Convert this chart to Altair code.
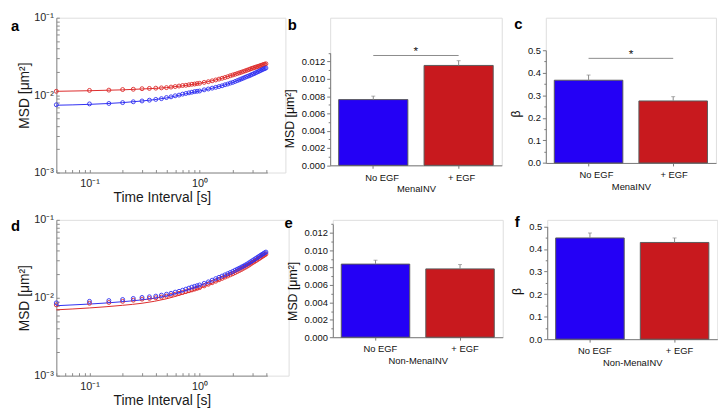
import altair as alt
import pandas as pd

FONT = "Liberation Sans"

# ---------------- data ----------------
t_pts = [0.05, 0.10, 0.15, 0.20, 0.25, 0.30, 0.35, 0.40, 0.45, 0.50,
         0.55, 0.60, 0.65, 0.70, 0.75, 0.80, 0.85, 0.90, 0.95, 1.0,
         1.1, 1.2, 1.3, 1.4, 1.5, 1.6, 1.7, 1.8, 1.9, 2.0,
         2.1, 2.2, 2.3, 2.4, 2.5, 2.6, 2.7, 2.8, 2.9, 3.0,
         3.1, 3.2, 3.3, 3.4, 3.5, 3.6, 3.7, 3.8, 3.9, 4.0]

# panel a (MenaINV): + EGF (red) and No EGF (blue)
a_red = [0.0112, 0.0115, 0.0116, 0.0118, 0.0119, 0.0121, 0.0122, 0.0123, 0.0124, 0.0125,
         0.0127, 0.0129, 0.0131, 0.0133, 0.0134, 0.0136, 0.0138, 0.0139, 0.0141, 0.0142,
         0.0146, 0.0149, 0.0153, 0.0157, 0.0161, 0.0165, 0.0169, 0.0173, 0.0178, 0.0182,
         0.0186, 0.0190, 0.0194, 0.0198, 0.0202, 0.0206, 0.0210, 0.0214, 0.0218, 0.0222,
         0.0225, 0.0229, 0.0232, 0.0235, 0.0238, 0.0242, 0.0245, 0.0248, 0.0251, 0.0254]
a_blue = [0.0075, 0.0077, 0.0078, 0.0080, 0.0082, 0.0084, 0.0086, 0.0088, 0.0090, 0.0093,
          0.0095, 0.0098, 0.0100, 0.0103, 0.0105, 0.0107, 0.0109, 0.0111, 0.0112, 0.0113,
          0.0117, 0.0120, 0.0123, 0.0126, 0.0129, 0.0132, 0.0136, 0.0139, 0.0143, 0.0146,
          0.0150, 0.0154, 0.0158, 0.0162, 0.0166, 0.0170, 0.0174, 0.0177, 0.0181, 0.0185,
          0.0189, 0.0193, 0.0197, 0.0201, 0.0205, 0.0209, 0.0213, 0.0217, 0.0220, 0.0224]

# panel d (Non-MenaINV)
d_red = [0.0081, 0.0085, 0.0087, 0.0090, 0.0093, 0.0096, 0.0098, 0.0100, 0.0102, 0.0105,
         0.0108, 0.0111, 0.0114, 0.0117, 0.0120, 0.0123, 0.0126, 0.0129, 0.0132, 0.0135,
         0.0142, 0.0149, 0.0156, 0.0163, 0.0170, 0.0177, 0.0184, 0.0190, 0.0197, 0.0203,
         0.0210, 0.0217, 0.0224, 0.0231, 0.0239, 0.0246, 0.0254, 0.0262, 0.0271, 0.0280,
         0.0288, 0.0296, 0.0304, 0.0313, 0.0321, 0.0330, 0.0338, 0.0347, 0.0355, 0.0364]
d_blue = [0.0086, 0.0090, 0.0092, 0.0095, 0.0098, 0.0101, 0.0103, 0.0105, 0.0108, 0.0111,
          0.0114, 0.0118, 0.0121, 0.0125, 0.0129, 0.0133, 0.0137, 0.0140, 0.0143, 0.0146,
          0.0153, 0.0160, 0.0168, 0.0176, 0.0183, 0.0190, 0.0197, 0.0204, 0.0211, 0.0218,
          0.0226, 0.0233, 0.0240, 0.0248, 0.0255, 0.0263, 0.0271, 0.0280, 0.0289, 0.0298,
          0.0307, 0.0316, 0.0325, 0.0334, 0.0343, 0.0352, 0.0361, 0.0369, 0.0378, 0.0386]

# fitted curves
t_fit = [0.05, 0.1, 0.2, 0.3, 0.5, 0.7, 1.0, 1.5, 2.0, 3.0, 4.0]
a_red_fit = [0.0112, 0.0114, 0.0117, 0.0120, 0.0125, 0.0132, 0.0142, 0.0161, 0.0182, 0.0222, 0.0256]
a_blue_fit = [0.0074, 0.0076, 0.0080, 0.0084, 0.0092, 0.0102, 0.0113, 0.0129, 0.0146, 0.0185, 0.0226]
d_red_fit = [0.0070, 0.0074, 0.0080, 0.0085, 0.0097, 0.0111, 0.0132, 0.0168, 0.0203, 0.0280, 0.0366]
d_blue_fit = [0.0079, 0.0083, 0.0089, 0.0094, 0.0105, 0.0120, 0.0144, 0.0182, 0.0218, 0.0298, 0.0388]

# bar panels
conds = ["No EGF", "+ EGF"]
b_msd = [0.0076, 0.01155]
b_err = [0.0004, 0.00055]
c_beta = [0.367, 0.275]
c_err = [0.023, 0.019]
e_msd = [0.0084, 0.00785]
e_err = [0.00045, 0.0005]
f_beta = [0.449, 0.429]
f_err = [0.022, 0.020]
b_sig = 0.0127
c_sig = 0.464

# axis tick lists
x_log_ticks = [0.05, 0.06, 0.07, 0.08, 0.09, 0.1, 0.2, 0.3, 0.4, 0.5, 0.6, 0.7, 0.8, 0.9, 1, 2, 3, 4]
y_log_ticks = [0.001, 0.002, 0.003, 0.004, 0.005, 0.006, 0.007, 0.008, 0.009,
               0.01, 0.02, 0.03, 0.04, 0.05, 0.06, 0.07, 0.08, 0.09, 0.1]
msd_major = [0.0, 0.002, 0.004, 0.006, 0.008, 0.010, 0.012]
msd_minor = [0.001, 0.003, 0.005, 0.007, 0.009, 0.011, 0.013]
beta_major = [0.0, 0.1, 0.2, 0.3, 0.4, 0.5]
beta_minor = [0.05, 0.15, 0.25, 0.35, 0.45]

RED = "#dc2a2a"
BLUE = "#2f2ff2"
BAR_BLUE = "#2400f5"
BAR_RED = "#c8191e"
AXIS_GRAY = "#8a8a8a"


def letter_title(txt, dx, dy):
    return alt.TitleParams(txt, anchor="start", frame="group", dx=dx, dy=dy, offset=0,
                           fontSize=15, fontWeight="bold", font=FONT, baseline="alphabetic",
                           color="#000000")


def msd_panel(letter, red_pts, blue_pts, red_fit, blue_fit, width, height, tdx, tdy):
    n = len(t_pts)
    pts = pd.DataFrame({"t": t_pts + t_pts, "msd": red_pts + blue_pts,
                        "s": ["+ EGF"] * n + ["No EGF"] * n})
    m = len(t_fit)
    fit = pd.DataFrame({"t": t_fit + t_fit, "msd": red_fit + blue_fit,
                        "s": ["+ EGF"] * m + ["No EGF"] * m})
    xs = alt.Scale(type="log", domain=[0.05, 4.12], range=[0, 214], nice=False)
    ys = alt.Scale(type="log", domain=[0.001, 0.1], nice=False)
    cs = alt.Scale(domain=["+ EGF", "No EGF"], range=[RED, BLUE])
    common = dict(grid=False, domainColor=AXIS_GRAY, tickColor=AXIS_GRAY,
                  tickSize={"expr": "-3"}, labelFontSize=11, labelColor="#262626",
                  labelFont=FONT, titleFont=FONT, titleFontSize=14,
                  titleFontWeight="normal", titleColor="#1a1a1a", labelOverlap=False,
                  labelFlush=False)
    xaxis = alt.Axis(values=x_log_ticks, title="Time Interval [s]", labelPadding=8,
                     titlePadding=2,
                     labelExpr="abs(datum.value-0.1)<1e-9 ? '10⁻¹' : (abs(datum.value-1)<1e-9 ? '10⁰' : '')",
                     **common)
    yaxis = alt.Axis(values=y_log_ticks, title="MSD [μm²]", labelPadding=6, titlePadding=2,
                     labelExpr="abs(datum.value-0.1)<1e-9 ? '10⁻¹' : (abs(datum.value-0.01)<1e-9 ? '10⁻²' : (abs(datum.value-0.001)<1e-9 ? '10⁻³' : ''))",
                     **common)
    lines = alt.Chart(fit).mark_line(strokeWidth=1, interpolate="monotone").encode(
        x=alt.X("t:Q", scale=xs, axis=xaxis),
        y=alt.Y("msd:Q", scale=ys, axis=yaxis),
        color=alt.Color("s:N", scale=cs, legend=None),
        order=alt.Order("t:Q"),
    )
    points = alt.Chart(pts).mark_point(shape="circle", filled=False, size=16, strokeWidth=0.9,
                                       opacity=1).encode(
        x=alt.X("t:Q", scale=xs, axis=xaxis),
        y=alt.Y("msd:Q", scale=ys, axis=yaxis),
        color=alt.Color("s:N", scale=cs, legend=None),
    )
    return alt.layer(lines, points).properties(
        width=width, height=height, title=letter_title(letter, tdx, tdy))


def bar_panel(letter, vals, errs, kind, xtitle, width, height, rng, title_y, tdx, tdy,
              sig=None, label_offset=None):
    df = pd.DataFrame({"cond": conds, "v": vals,
                       "hi": [v + e for v, e in zip(vals, errs)]})
    xs = alt.Scale(domain=conds, paddingInner=0.19, paddingOuter=0.1)
    if kind == "msd":
        ys = alt.Scale(domain=[0, 0.013], range=rng, nice=False, zero=True)
        major, minor, fmt = msd_major, msd_minor, ".3f"
        ytitle = "MSD [μm²]"
    else:
        ys = alt.Scale(domain=[0, 0.5], range=rng, nice=False, zero=True)
        major, minor, fmt = beta_major, beta_minor, ".1f"
        ytitle = "β"
    if label_offset is None:
        label_offset = 5
    xaxis = alt.Axis(title=xtitle, grid=False, domainColor="#7a7a7a", tickColor="#7a7a7a",
                     tickSize=3, labelPadding=4, labelFontSize=9.5, labelColor="#111111",
                     labelFont=FONT, titleFont=FONT, titleFontSize=9.5,
                     titleFontWeight="normal", titleColor="#111111", titlePadding=2,
                     labelAngle=0, labelOffset=label_offset)
    yaxis = alt.Axis(title=ytitle, values=major, format=fmt, grid=False,
                     domainColor="#7a7a7a", tickColor="#7a7a7a", tickSize=3.5,
                     labelPadding=2, labelFontSize=9.5, labelColor="#111111",
                     labelFont=FONT, titleFont=FONT, titleFontSize=12.5,
                     titleFontWeight="normal", titleColor="#111111", titlePadding=5,
                     titleY=title_y, labelOverlap=False, labelFlush=False, orient="left")
    minor_axis = alt.Axis(values=minor, labels=False, domain=False, grid=False, title="",
                          tickColor="#7a7a7a", tickSize=2, orient="left")
    bars = alt.Chart(df).mark_bar(stroke="#5a5a5a", strokeWidth=1).encode(
        x=alt.X("cond:N", scale=xs, axis=xaxis, sort=conds),
        y=alt.Y("v:Q", scale=ys, axis=yaxis),
        color=alt.Color("cond:N", scale=alt.Scale(domain=conds, range=[BAR_BLUE, BAR_RED]),
                        legend=None),
    )
    minor_layer = alt.Chart(df).mark_point(opacity=0).encode(
        x=alt.X("cond:N", sort=conds), y=alt.Y("v:Q", axis=minor_axis))
    err = alt.Chart(df).mark_rule(color="#8a8a8a", strokeWidth=1).encode(
        x=alt.X("cond:N", sort=conds), y=alt.Y("v:Q", axis=None), y2="hi:Q")
    cap = alt.Chart(df).mark_tick(color="#8a8a8a", thickness=1, size=4,
                                  orient="horizontal").encode(
        x=alt.X("cond:N", sort=conds), y=alt.Y("hi:Q", axis=None))
    layers = [bars, minor_layer, err, cap]
    if sig is not None:
        sdf = pd.DataFrame({"cond": [conds[0]], "cond2": [conds[1]], "y": [sig]})
        rule = alt.Chart(sdf).mark_rule(color="#8a8a8a", strokeWidth=1).encode(
            x=alt.X("cond:N", sort=conds), x2="cond2:N", y=alt.Y("y:Q", axis=None))
        star = alt.Chart(sdf).mark_text(text="*", fontSize=12, font=FONT, dx=43,
                                        baseline="alphabetic", color="#111111").encode(
            x=alt.X("cond:N", sort=conds), y=alt.Y("y:Q", axis=None))
        layers += [rule, star]
    return alt.layer(*layers).resolve_axis(y="independent").properties(
        width=width, height=height, title=letter_title(letter, tdx, tdy))


pa = msd_panel("a", a_red, a_blue, a_red_fit, a_blue_fit, 232.3, 157, -46, 34)
pb = bar_panel("b", b_msd, b_err, "msd", "MenaINV", 174, 149.7, [149.7, 35.7], 102, -43, 27,
               sig=b_sig,
               label_offset={"condition": {"test": "datum.value === 'No EGF'", "value": 9},
                             "value": 3})
pc = bar_panel("c", c_beta, c_err, "beta", "MenaINV", 172.5, 147.3, [147.3, 33], 97, -32, 26,
               sig=c_sig,
               label_offset={"condition": {"test": "datum.value === 'No EGF'", "value": 8},
                             "value": 1})
pd_ = msd_panel("d", d_red, d_blue, d_red_fit, d_blue_fit, 235.6, 158, -46, 32)
pe = bar_panel("e", e_msd, e_err, "msd", "Non-MenaINV", 172.3, 119, [119, 4.3], 72, -49, 23.5)
pf = bar_panel("f", f_beta, f_err, "beta", "Non-MenaINV", 172.5, 121, [121, 6.7], 72, -33, 22)

row1 = alt.hconcat(pa, pb, pc, spacing=44.7, bounds="flush").resolve_scale(color="independent")
row2 = alt.hconcat(pd_, pe, pf, spacing=44.4, bounds="flush").resolve_scale(color="independent")

chart = alt.vconcat(row1, row2, spacing=8).resolve_scale(color="independent").properties(
    padding={"left": 2, "top": 0, "right": 0, "bottom": 0}
).configure_view(strokeWidth=0).configure(font=FONT, background="white")

chart.save("out.html", embed_options={"renderer": "svg", "actions": False})
